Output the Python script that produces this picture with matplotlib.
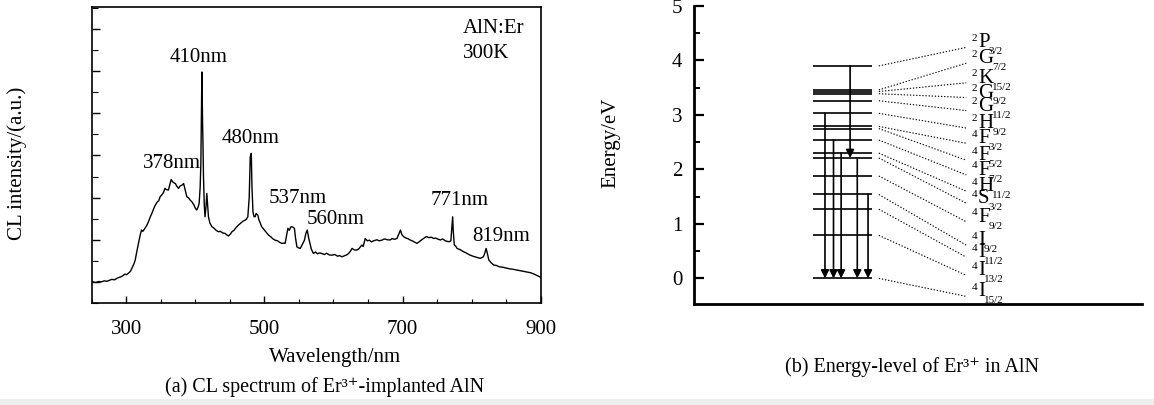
import numpy as np
import matplotlib
matplotlib.use('Agg')
import matplotlib.pyplot as plt
from matplotlib.ticker import MultipleLocator
from matplotlib.patches import Rectangle

plt.rcParams['font.family'] = ['Liberation Serif', 'DejaVu Serif']

# (a) CL spectrum (intensity in arbitrary units)
wavelength = [250, 256, 260, 264, 268, 272, 276, 279, 283, 287, 290, 293, 296, 298, 300, 303, 306, 308,
              311, 313, 315, 317.6, 320, 322, 324, 327, 330, 332, 335, 337, 340, 342, 345, 347, 349, 352,
              354, 356, 358, 361, 363, 365, 367, 369, 371, 373, 375.6, 378, 381, 383, 385, 387.7, 390,
              392, 395, 398, 400, 402, 404, 405.5, 407, 408, 409, 409.5, 410.5, 411, 411.8, 413, 414,
              415.5, 416.6, 417.5, 419, 421, 424, 427, 430, 433.5, 436, 440, 443, 446, 448, 451, 453,
              456, 459, 462.5, 466, 469, 472, 474, 476, 478, 479.5, 481, 482, 483.5, 485, 486.6, 488,
              490.5, 492, 494, 496, 499, 502, 506, 509, 512, 515.6, 519, 522, 525, 528, 530, 532, 534,
              536, 538, 540, 542, 543.5, 545, 547, 549, 552, 555, 558, 560, 562, 564, 566.5, 568, 571,
              574, 577, 580, 583, 587, 590, 594, 598, 602, 606, 609, 612, 616, 619, 622, 625, 627, 630,
              634, 637, 641, 643, 646, 649, 652, 655, 659, 663, 666, 670, 674, 678, 682, 685, 688, 692,
              695, 697, 699, 701.5, 705, 708, 711, 714, 718, 721, 724, 727, 730.5, 733, 735, 738, 742,
              745, 748, 752, 755, 758, 762, 765, 768, 770, 771.5, 772.6, 773.5, 775, 777, 779, 782, 785,
              788.5, 792, 795, 798, 802, 806, 809, 812.6, 815, 817, 819, 821, 822.5, 825, 828, 832, 836,
              840, 846, 850, 855, 860, 866, 870, 875, 880, 885, 890, 895, 900]
intensity = [1.01, 0.97, 1.02, 1.00, 1.05, 1.03, 1.08, 1.12, 1.10, 1.18, 1.22, 1.25, 1.32, 1.37, 1.34,
             1.41, 1.50, 1.64, 1.85, 2.04, 2.40, 2.83, 3.20, 3.46, 3.40, 3.54, 3.70, 3.85, 4.10, 4.25,
             4.50, 4.64, 4.80, 4.85, 5.04, 5.15, 5.25, 5.44, 5.38, 5.36, 5.60, 5.86, 5.75, 5.70, 5.67,
             5.55, 5.44, 5.55, 5.60, 5.67, 5.40, 5.04, 5.00, 4.90, 4.80, 4.65, 4.50, 4.41, 4.55, 4.72,
             5.50, 6.62, 9.50, 10.96, 8.50, 7.70, 5.99, 4.60, 4.09, 4.60, 5.20, 4.80, 4.09, 3.80, 3.62,
             3.55, 3.45, 3.38, 3.40, 3.32, 3.30, 3.22, 3.18, 3.28, 3.38, 3.45, 3.58, 3.70, 3.80, 3.88,
             3.93, 3.98, 4.09, 5.00, 6.93, 7.10, 5.50, 4.30, 4.10, 4.09, 4.25, 4.17, 3.95, 3.80, 3.62,
             3.50, 3.38, 3.22, 3.15, 3.05, 2.98, 2.95, 2.88, 2.83, 2.84, 2.83, 3.20, 3.54, 3.45, 3.60,
             3.62, 3.58, 3.54, 3.10, 2.67, 2.62, 2.59, 2.78, 2.98, 3.30, 3.46, 3.10, 2.75, 2.55, 2.35,
             2.42, 2.33, 2.38, 2.35, 2.30, 2.36, 2.28, 2.27, 2.30, 2.22, 2.25, 2.19, 2.24, 2.28, 2.35,
             2.48, 2.59, 2.52, 2.51, 2.58, 2.75, 2.68, 3.06, 2.95, 2.98, 2.90, 2.96, 3.00, 2.95, 2.98,
             3.04, 3.00, 2.99, 3.06, 3.02, 3.06, 3.30, 3.46, 3.25, 3.15, 3.08, 3.05, 2.99, 2.95, 2.88,
             2.83, 2.90, 2.98, 3.06, 3.12, 3.15, 3.10, 3.12, 3.06, 3.08, 3.02, 2.99, 3.04, 2.95, 2.92,
             2.91, 2.95, 3.60, 4.09, 3.40, 2.75, 2.70, 2.59, 2.55, 2.50, 2.43, 2.38, 2.32, 2.27, 2.22,
             2.18, 2.15, 2.12, 2.16, 2.19, 2.35, 2.59, 2.40, 2.04, 1.92, 1.80, 1.78, 1.72, 1.69, 1.66,
             1.62, 1.60, 1.56, 1.53, 1.50, 1.47, 1.44, 1.38, 1.30, 1.22]

peak_labels = ['410nm', '378nm', '480nm', '537nm', '560nm', '771nm', '819nm']
peak_label_x = [404, 366, 480.5, 549, 603.5, 782, 842.6]
peak_label_y = [11.66, 6.62, 7.82, 4.96, 3.96, 4.85, 3.14]

# (b) Er3+ energy levels (eV), top to bottom, and the state names (multiplicity, letter, J)
level_energy = [3.90, 3.46, 3.43, 3.39, 3.26, 3.03, 2.79, 2.75, 2.54, 2.30, 2.21, 1.88, 1.54, 1.27, 0.79, 0.0]
state_mult = ['2', '2', '2', '2', '2', '2', '4', '4', '4', '4', '4', '4', '4', '4', '4', '4']
state_letter = ['P', 'G', 'K', 'G', 'G', 'H', 'F', 'F', 'F', 'H', 'S', 'F', 'I', 'I', 'I', 'I']
state_j = ['3/2', '7/2', '15/2', '9/2', '11/2', '9/2', '3/2', '5/2', '7/2', '11/2', '3/2', '9/2',
           '9/2', '11/2', '13/2', '15/2']
state_label_energy = [4.24, 3.95, 3.59, 3.32, 3.08, 2.76, 2.48, 2.17, 1.90, 1.60, 1.38, 1.04, 0.61, 0.39, 0.055, -0.33]

# transitions: (x position, upper level, lower level)
arrow_x = [29.3, 31.2, 32.9, 36.5, 38.9, 34.9]
arrow_from = [3.03, 2.54, 2.30, 2.21, 1.54, 3.90]
arrow_to = [0.0, 0.0, 0.0, 0.0, 0.0, 2.21]

fig = plt.figure(figsize=(11.54, 4.05), dpi=100)
fig.patches.append(Rectangle((0, 0), 1, 6 / 405, transform=fig.transFigure,
                             facecolor='#eeeeee', edgecolor='none', zorder=-1))

# ---------- panel (a)
ax1 = fig.add_axes([0.0795, 0.2519, 0.389, 0.730])
ax1.plot(wavelength, intensity, color='black', lw=1.0)
ax1.set_xlim(250, 900)
ax1.set_ylim(0, 14.03)
ax1.set_xticks([300, 500, 700, 900])
ax1.xaxis.set_minor_locator(MultipleLocator(50))
ax1.set_yticks([1, 3, 5, 7, 9, 11, 13])
ax1.yaxis.set_minor_locator(MultipleLocator(1))
ax1.set_yticklabels([])
ax1.tick_params(axis='both', which='both', direction='in', top=False, right=False, labelsize=15)
ax1.tick_params(axis='x', which='major', length=5, width=1.0, pad=12)
ax1.tick_params(axis='x', which='minor', length=3, width=0.8)
ax1.tick_params(axis='y', which='major', length=6, width=1.0)
ax1.tick_params(axis='y', which='minor', length=4, width=0.8)
for sp in ax1.spines.values():
    sp.set_linewidth(1.2)

for lab, xx, yy in zip(peak_labels, peak_label_x, peak_label_y):
    ax1.text(xx, yy, lab, ha='center', va='center', fontsize=15)
ax1.text(787, 13.03, 'AlN:Er', ha='left', va='center', fontsize=15)
ax1.text(787, 11.85, '300K', ha='left', va='center', fontsize=15)

fig.text(0.290, 0.1185, 'Wavelength/nm', ha='center', va='center', fontsize=15)
fig.text(0.0147, 0.5975, 'CL intensity/(a.u.)', ha='center', va='center', rotation=90, fontsize=15)
fig.text(0.281, 0.044, '(a) CL spectrum of Er³⁺-implanted AlN', ha='center', va='center', fontsize=14.5)

# ---------- panel (b)
ax2 = fig.add_axes([0.601, 0.2494, 0.3887, 0.7358])
ax2.set_xlim(0, 100)
ax2.set_ylim(-0.47, 5.0)
ax2.set_yticks([0, 1, 2, 3, 4, 5])
ax2.yaxis.set_minor_locator(MultipleLocator(0.5))
ax2.set_xticks([])
ax2.spines['top'].set_visible(False)
ax2.spines['right'].set_visible(False)
ax2.spines['left'].set_linewidth(2.0)
ax2.spines['bottom'].set_linewidth(2.0)
ax2.tick_params(axis='y', which='major', direction='in', length=7, width=1.6, labelsize=15, pad=8)
ax2.tick_params(axis='y', which='minor', direction='in', length=4.5, width=1.4)

ax2.hlines(level_energy, 26.6, 39.7, color='black', lw=1.2)

renderer = fig.canvas.get_renderer()
for e, le, m, L, j in zip(level_energy, state_label_energy, state_mult, state_letter, state_j):
    ax2.plot([41.3, 60.8], [e, le], color='black', lw=0.8, ls=(0, (1.2, 1.6)))
    t = ax2.text(63.4, le, L, ha='left', va='baseline', fontsize=15)
    w_pt = t.get_window_extent(renderer).width * 72 / fig.dpi
    ax2.annotate(m, xy=(63.4, le), xytext=(-0.3, 6.5), textcoords='offset points',
                 ha='right', va='center', fontsize=8)
    ax2.annotate(j, xy=(63.4, le), xytext=(w_pt - 0.6, -3.2), textcoords='offset points',
                 ha='left', va='center', fontsize=8)

for xx, e1, e0 in zip(arrow_x, arrow_from, arrow_to):
    ax2.annotate('', xy=(xx, e0), xytext=(xx, e1),
                 arrowprops=dict(arrowstyle='-|>', color='black', lw=1.2,
                                 mutation_scale=12, shrinkA=0, shrinkB=0))

fig.text(0.5295, 0.647, 'Energy/eV', ha='center', va='center', rotation=90, fontsize=15)
fig.text(0.790, 0.094, '(b) Energy-level of Er³⁺ in AlN', ha='center', va='center', fontsize=14.5)

fig.savefig('out.png', dpi=100)
